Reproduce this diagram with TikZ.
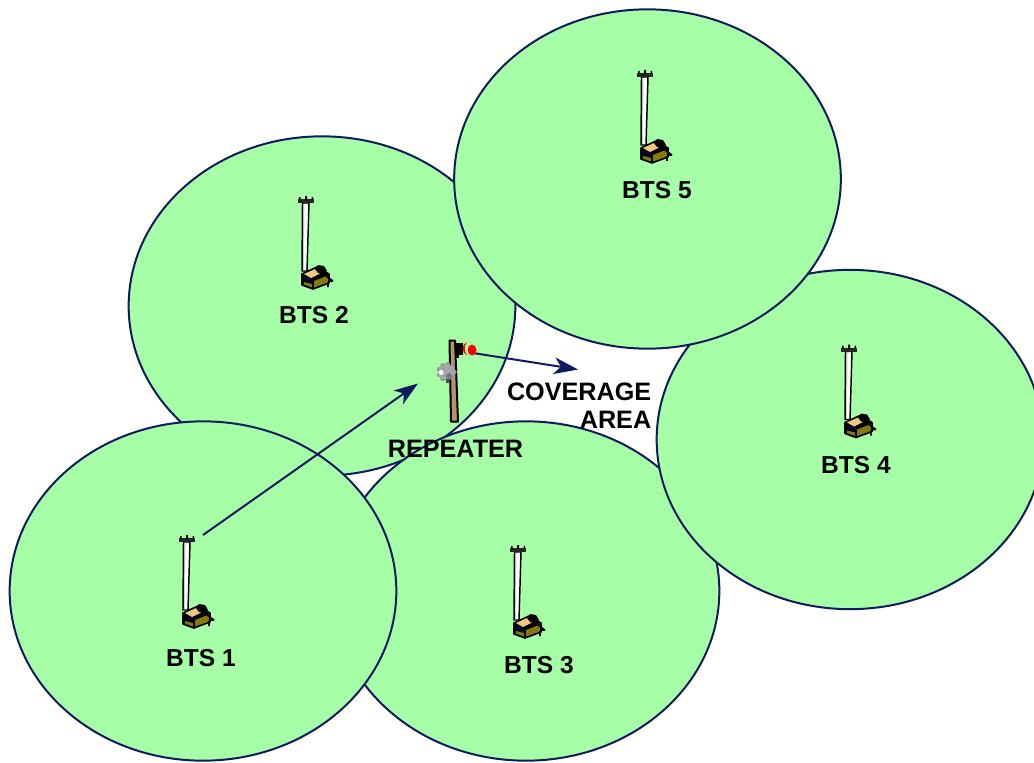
\documentclass[tikz,border=0pt]{standalone}
\usepackage{fontspec}
\setmainfont{Liberation Sans}
\usetikzlibrary{shapes.geometric,arrows.meta}
\definecolor{cellfill}{HTML}{A6FFA6}
\definecolor{navyline}{HTML}{0F1B5F}
\definecolor{boxolive}{HTML}{857A10}
\definecolor{poleb}{HTML}{B8926A}
\definecolor{creamtop}{HTML}{F0C880}
\tikzset{
  cell/.style={ellipse,draw=navyline,fill=cellfill,line width=1.5pt,minimum width=290pt,minimum height=254.5pt,inner sep=0pt},
  lbl/.style={font=\bfseries\fontsize{18.4}{21}\selectfont,text=black,inner sep=0pt,align=right},
  lblw/.style={font=\bfseries\fontsize{18.9}{21}\selectfont,text=black,inner sep=0pt,align=right},
  link/.style={draw=navyline,line width=1.5pt,-{Stealth[length=18pt,width=12.5pt,inset=5pt]}},
  tower/.pic={
    % mast: origin at the centre of the top bar
    \fill[white] (-3.5,3)--(3,3)--(1,71)--(-4,71)--cycle;
    \fill[gray!35] (-3.5,3)--(-1.5,3)--(-2.2,71)--(-4,71)--cycle;
    \draw[black,line width=1.1pt] (-3.5,3)--(3,3)--(1,71)--(-4,71)--cycle;
    \fill[black!85] (-8,-1)--(8,-1)--(8,3)--(-8,3)--cycle;
    \fill[black] (-7,-3) rectangle (-5.5,0) (-1,-4) rectangle (1,0) (5.5,-3) rectangle (7,0);
    % cabinet
    \fill[black,draw=black,line width=1.2pt,line join=round] (-4,74)--(11,67)--(23,74)--(23,83)--(7,89)--(-4,85)--cycle;
    \fill[creamtop] (-2,74)--(9,69)--(14,73.5)--(5,78)--cycle;
    \fill[boxolive] (8,81)--(22,75.5)--(22,82.5)--(8,87.5)--cycle;
    \fill[black!70!blue] (-2,78) rectangle (6,80);
    \fill[boxolive] (-2,82)--(6,84)--(6,87.5)--(-2,84.5)--cycle;
    \fill[black] (9,69)--(12,65)--(18,66)--(21,71)--(17,74)--(12,73)--cycle;
    \draw[black,line width=1.2pt] (20,76)--(27,81) (22,82)--(22,87) (22,81)--(27,81);
  },
  lobe/.style={gray!80}
}
\begin{document}
\begin{tikzpicture}[x=0.75pt,y=-0.75pt]
\useasboundingbox (0,0) rectangle (1034,763);
\fill[white] (0,0) rectangle (1034,763);
\begin{scope}
\clip (0,0) rectangle (1034,763);
\node[cell] (c2) at (322,306) {};
\node[cell] (c3) at (526,591) {};
\node[cell] (c1) at (203,591) {};
\node[cell] (c4) at (850,439.5) {};
\node[cell] (c5) at (647.5,179) {};
\end{scope}
\pic at (187,539) {tower};
\pic at (306,200) {tower};
\pic at (518,549) {tower};
\pic at (849,348.5) {tower};
\pic at (645,74) {tower};
\node[lbl] (b1) at (201,658.5) {BTS 1};
\node[lbl] (b2) at (314,315) {BTS 2};
\node[lbl] (b3) at (539,665.5) {BTS 3};
\node[lbl] (b4) at (856,465) {BTS 4};
\node[lbl] (b5) at (657,190) {BTS 5};
\node[lblw] (rp) at (455.5,449) {REPEATER};
\node[lblw,anchor=east] (cov) at (651.5,405.5) {COVERAGE\\AREA};
% repeater
\fill[poleb,draw=black,line width=1.5pt,line join=round] (449.5,340.5)--(455,340.5)--(458,421.5)--(451,421.5)--cycle;
\fill[black] (455,343) rectangle (463,355);
\fill[black] (456,355) rectangle (459,358);
\foreach \a in {0,40,...,320}{\fill[lobe] (446.5,372)+(\a:7.5) circle (2.6);}
\fill[gray!70] (446.5,372) circle (7.5);
\fill[gray!95!black] (449,376) circle (3);
\fill[black!70] (446,379) rectangle (450,383);
\fill[white] (441,372.5) circle (2.5);
\coordinate (src) at (203,535);
\coordinate (dst) at (418,383.5);
\coordinate (rsrc) at (473,353);
\coordinate (rdst) at (578,369.5);
\draw[link] (src)--(dst);
\draw[link] (rsrc)--(rdst);
\fill[red] (467,342) .. controls (461,346) and (461,351) .. (467,355.5) .. controls (464,351) and (464,346) .. (467,342) -- cycle;
\fill[red] (472,350) ellipse (4.5 and 5.5);
\end{tikzpicture}
\end{document}
